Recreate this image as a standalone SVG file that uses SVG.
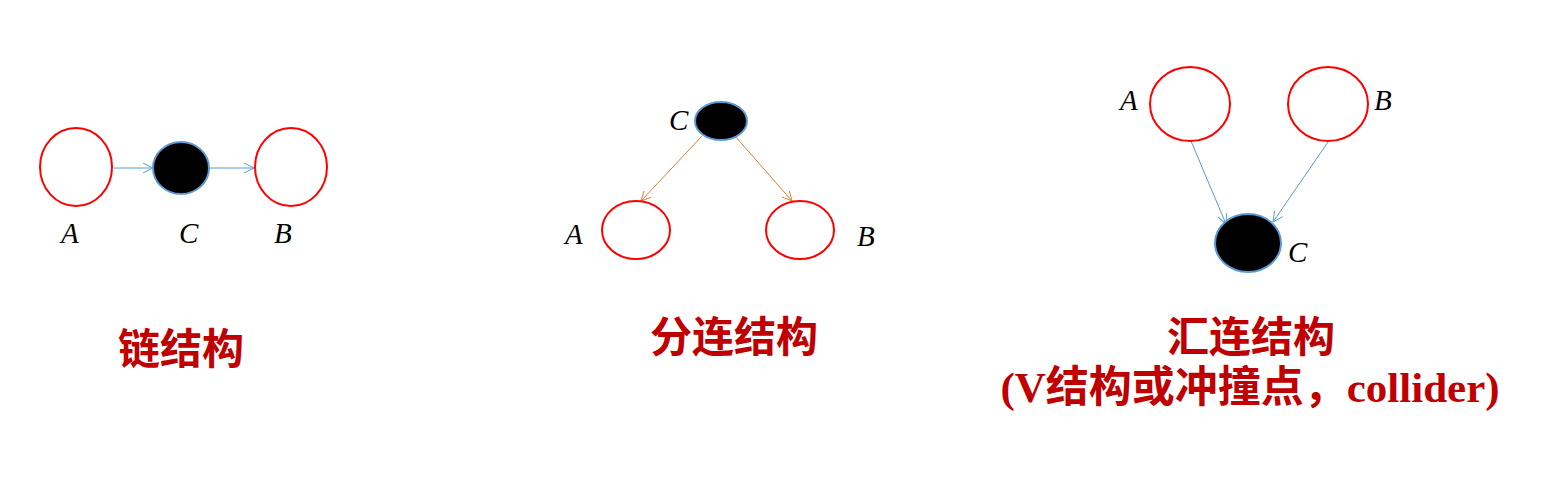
<svg xmlns="http://www.w3.org/2000/svg" width="1552" height="498" viewBox="0 0 1552 498">
<style>
.open{fill:#fff;stroke:#ff0000;stroke-width:2}
.obs{fill:#000;stroke:#5b9bd5;stroke-width:2}
.lbl{font-family:"Liberation Serif","DejaVu Serif",serif;font-style:italic;font-size:29px;fill:#000}
.ttl{font-family:"Liberation Serif","Noto Sans CJK SC",serif;font-weight:bold;font-size:42px;fill:#c00000;text-anchor:middle}
.blue{stroke:#5b9bd5;stroke-width:1;fill:none}
.orange{stroke:#ed7d31;stroke-width:1;fill:none}
</style>
<defs>
<marker id="ab" viewBox="0 0 10 10" refX="10" refY="5" markerWidth="10" markerHeight="10" markerUnits="userSpaceOnUse" orient="auto">
<path d="M0,0 L10,5 L0,10" fill="none" stroke="#5b9bd5" stroke-width="1"/>
</marker>
<marker id="ao" viewBox="0 0 10 10" refX="10" refY="5" markerWidth="10" markerHeight="10" markerUnits="userSpaceOnUse" orient="auto">
<path d="M0,0 L10,5 L0,10" fill="none" stroke="#ed7d31" stroke-width="1"/>
</marker>
</defs>
<rect width="1552" height="498" fill="#fff"/>
<g id="connectors">
<line class="blue" x1="114" y1="168" x2="153" y2="168" marker-end="url(#ab)"/>
<line class="blue" x1="209" y1="168" x2="254" y2="168" marker-end="url(#ab)"/>
<line class="orange" x1="702" y1="136" x2="641" y2="201" marker-end="url(#ao)"/>
<line class="orange" x1="735" y1="136" x2="792" y2="201" marker-end="url(#ao)"/>
<line class="blue" x1="1191" y1="141" x2="1226" y2="224" marker-end="url(#ab)"/>
<line class="blue" x1="1328" y1="142" x2="1273" y2="222" marker-end="url(#ab)"/>
</g>
<g id="chain-A"><ellipse class="open" cx="76" cy="167" rx="36" ry="39"/><text class="lbl" x="61" y="243">A</text></g>
<g id="chain-C"><ellipse class="obs" cx="181" cy="168" rx="28" ry="26"/><text class="lbl" x="179" y="243">C</text></g>
<g id="chain-B"><ellipse class="open" cx="291" cy="167" rx="36" ry="39"/><text class="lbl" x="274" y="243">B</text></g>
<g id="chain-title"><text class="ttl" x="181" y="364">链结构</text></g>
<g id="fork-C"><ellipse class="obs" cx="721" cy="121" rx="26" ry="19"/><text class="lbl" x="669" y="130">C</text></g>
<g id="fork-A"><ellipse class="open" cx="636" cy="230" rx="34" ry="29"/><text class="lbl" x="565" y="244">A</text></g>
<g id="fork-B"><ellipse class="open" cx="800" cy="230" rx="34" ry="29"/><text class="lbl" x="857" y="246">B</text></g>
<g id="fork-title"><text class="ttl" x="734" y="352">分连结构</text></g>
<g id="coll-A"><ellipse class="open" cx="1190" cy="104" rx="40" ry="37"/><text class="lbl" x="1120" y="110">A</text></g>
<g id="coll-B"><ellipse class="open" cx="1328" cy="104" rx="40" ry="37"/><text class="lbl" x="1374" y="110">B</text></g>
<g id="coll-C"><ellipse class="obs" cx="1248" cy="243" rx="33" ry="29"/><text class="lbl" x="1288" y="262">C</text></g>
<g id="coll-title"><text class="ttl" x="1251" y="352">汇连结构</text><text class="ttl" x="1250" y="402" style="font-size:43px">(V结构或冲撞点，collider)</text></g>
</svg>
